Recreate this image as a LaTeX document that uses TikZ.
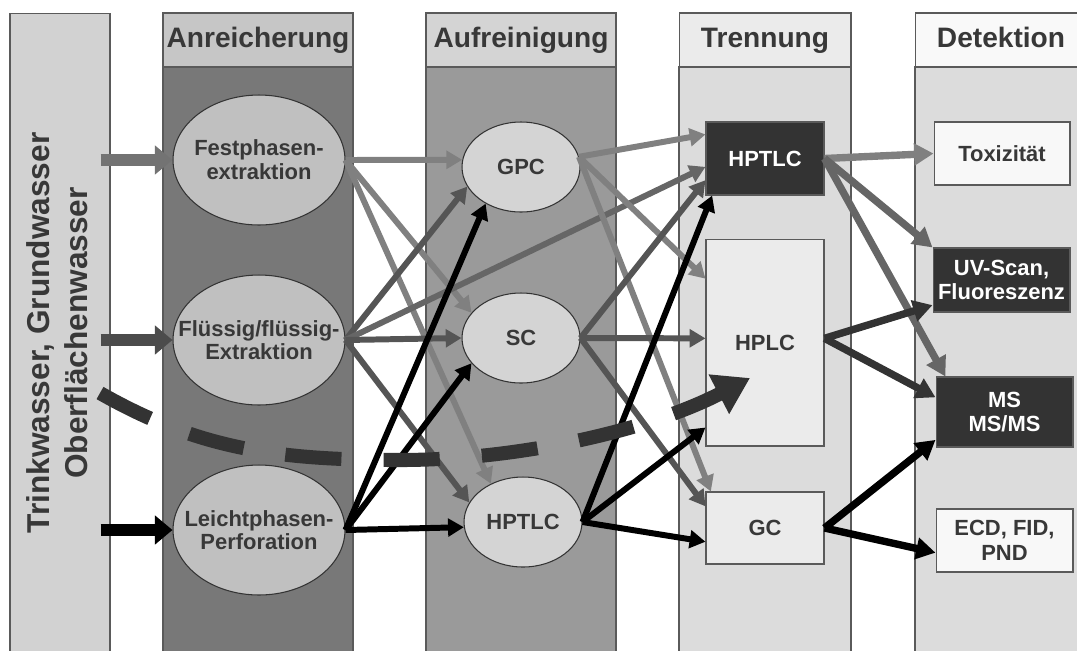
\documentclass[tikz,border=0pt]{standalone}
\usepackage{fontspec}
\setmainfont{Liberation Sans}
\usetikzlibrary{arrows.meta,shapes.geometric}

\definecolor{textgray}{HTML}{383838}
\definecolor{framegray}{HTML}{5A5A5A}
\definecolor{srcfill}{HTML}{D2D2D2}
\definecolor{anrhead}{HTML}{C6C6C6}
\definecolor{anrbody}{HTML}{787878}
\definecolor{aufhead}{HTML}{D4D4D4}
\definecolor{aufbody}{HTML}{9A9A9A}
\definecolor{trehead}{HTML}{EBEBEB}
\definecolor{trebody}{HTML}{DCDCDC}
\definecolor{dethead}{HTML}{F9F9F9}
\definecolor{anrfill}{HTML}{C0C0C0}
\definecolor{auffill}{HTML}{D4D4D4}
\definecolor{darkbox}{HTML}{333333}
\definecolor{lightbox}{HTML}{EBEBEB}
\definecolor{whitebox}{HTML}{F8F8F8}
\definecolor{midgray}{HTML}{808080}
\definecolor{arrowgray}{HTML}{666666}
\definecolor{darkarrow}{HTML}{555555}

\begin{document}
\begin{tikzpicture}[x=0.02cm,y=-0.02cm,
  >={Triangle[length=9pt,width=10pt]},
  colframe/.style={draw=framegray,line width=0.6pt},
  headbox/.style={colframe,minimum height=1.08cm,inner sep=0pt,
    text height=11.5pt,text depth=3.4pt,
    font=\bfseries\fontsize{16}{18}\selectfont,text=textgray},
  nodetext/.style={align=center,inner sep=0pt,text=textgray,
    font=\bfseries\fontsize{12.5}{13.5}\selectfont},
  anrnode/.style={ellipse,draw=darkbox,line width=0.6pt,fill=anrfill,
    minimum width=3.44cm,minimum height=2.6cm,inner sep=0pt},
  aufnode/.style={ellipse,draw=darkbox,line width=0.6pt,fill=auffill,
    minimum width=2.36cm,minimum height=1.8cm,inner sep=0pt},
  boxnode/.style={rectangle,draw=framegray,line width=0.6pt,inner sep=0pt,
    align=center,text=textgray,font=\bfseries\fontsize{12.5}{14}\selectfont},
  darknode/.style={boxnode,fill=darkbox,text=white},
  inarrow/.style={line width=7pt,-{Triangle[length=10pt,width=16pt]}},
  flow/.style={line width=3.4pt,->},
  flowbig/.style={line width=4.2pt,-{Triangle[length=11pt,width=12pt]}},
  dashflow/.style={line width=8pt,draw=darkbox,dash pattern=on 32pt off 24pt,
    -{Triangle[length=20pt,width=24pt]}}]
  \useasboundingbox (0,0) rectangle (1077,650);

  % Columns
  \node[colframe,fill=srcfill,minimum width=2cm,minimum height=12.8cm,
    inner sep=0pt] (src) at (60,333) {};
  \node[rotate=90,align=center,text=textgray,
    font=\bfseries\fontsize{18}{21.5}\selectfont] (srclabel) at (57,333)
    {Trinkwasser, Grundwasser\\Oberflächenwasser};
  \draw[colframe,fill=anrbody] (163,67) rectangle (353,653);
  \draw[colframe,fill=aufbody] (426,67) rectangle (616,653);
  \draw[colframe,fill=trebody] (679,67) rectangle (851,653);
  \draw[colframe,fill=trebody] (915,67) rectangle (1087,653);
  \node[headbox,fill=anrhead,minimum width=3.8cm] (hanr) at (258,40) {Anreicherung};
  \node[headbox,fill=aufhead,minimum width=3.8cm] (hauf) at (521,40) {Aufreinigung};
  \node[headbox,fill=trehead,minimum width=3.44cm] (htre) at (765,40) {Trennung};
  \node[headbox,fill=dethead,minimum width=3.44cm] (hdet) at (1001,40) {Detektion};

  % Anreicherung
  \node[anrnode,label={[nodetext]center:Festphasen-\\extraktion}] (fest) at (259,160) {};
  \node[anrnode,label={[nodetext]center:Flüssig/flüssig-\\Extraktion}] (flue) at (259,340) {};
  \node[anrnode,label={[nodetext]center:Leichtphasen-\\Perforation}] (leicht) at (259,530) {};

  % Aufreinigung
  \node[aufnode,label={[nodetext]center:GPC}] (gpc) at (521,167) {};
  \node[aufnode,label={[nodetext]center:SC}] (sc) at (521,338) {};
  \node[aufnode,label={[nodetext]center:HPTLC}] (hptlc) at (523,522) {};

  % Trennung
  \node[darknode,minimum width=2.36cm,minimum height=1.46cm] (htrenn) at (765,158.5) {HPTLC};
  \node[boxnode,fill=lightbox,minimum width=2.36cm,minimum height=4.14cm] (hplc) at (765,342.5) {HPLC};
  \node[boxnode,fill=lightbox,minimum width=2.36cm,minimum height=1.44cm] (gc) at (765,528) {GC};

  % Detektion
  \node[boxnode,fill=whitebox,minimum width=2.72cm,minimum height=1.26cm] (tox) at (1002,153.5) {Toxizität};
  \node[darknode,minimum width=2.74cm,minimum height=1.28cm] (uv) at (1001.5,280) {UV-Scan,\\Fluoreszenz};
  \node[darknode,minimum width=2.74cm,minimum height=1.4cm] (ms) at (1004.5,412) {MS\\MS/MS};
  \node[boxnode,fill=whitebox,minimum width=2.74cm,minimum height=1.26cm] (ecd) at (1004.5,540.5) {ECD, FID,\\PND};

  % Input arrows
  \coordinate (srcedge) at ([xshift=-0.2cm]src.east);
  \draw[inarrow,draw=black!55] (srcedge |- fest.west) -- (fest.west);
  \draw[inarrow,draw=black!70] (srcedge |- flue.west) -- (flue.west);
  \draw[inarrow,draw=black] (srcedge |- leicht.west) -- (leicht.west);

  % Anreicherung -> Aufreinigung
  \draw[flow,draw=midgray] (fest.east) -- (gpc.173);
  \draw[flow,draw=midgray] (fest.east) -- (sc.153);
  \draw[flow,draw=midgray] (fest.east) -- (hptlc.130);
  \draw[flow,draw=darkarrow] (flue.east) -- (gpc.200);
  \draw[flow,draw=arrowgray] (flue.east) -- (htrenn.188);
  \draw[flow,draw=darkarrow] (flue.east) -- (sc.west);
  \draw[flow,draw=darkarrow] (flue.east) -- (hptlc.160);
  \draw[flow,draw=black] (leicht.east) -- (gpc.226);
  \draw[flow,draw=black] (leicht.east) -- (sc.207);
  \draw[flow,draw=black] (leicht.east) -- (hptlc.185);

  % Aufreinigung -> Trennung
  \draw[flow,draw=midgray] (gpc.10) -- (htrenn.158);
  \draw[flow,draw=midgray] (gpc.10) -- (hplc.133);
  \draw[flow,draw=midgray] (gpc.10) -- (gc.146);
  \draw[flow,draw=darkarrow] (sc.east) -- (htrenn.200);
  \draw[flow,draw=darkarrow] (sc.east) -- (hplc.176);
  \draw[flow,draw=darkarrow] (sc.east) -- (gc.160);
  \draw[flow,draw=black] (hptlc.east) -- (htrenn.215);
  \draw[flow,draw=black] (hptlc.east) -- (hplc.235);
  \draw[flow,draw=black] (hptlc.east) -- (gc.193);

  % Trennung -> Detektion
  \draw[flowbig,draw=midgray] (htrenn.east) -- (tox.west);
  \draw[flowbig,draw=arrowgray] (htrenn.east) -- (uv.north west);
  \draw[flowbig,draw=arrowgray] (htrenn.east) -- (ms.149);
  \draw[flowbig,draw=darkbox] (hplc.4) -- (uv.200);
  \draw[flowbig,draw=darkbox] (hplc.4) -- (ms.168);
  \draw[flowbig,draw=black] (gc.east) -- (ms.202);
  \draw[flowbig,draw=black] (gc.east) -- (ecd.190);

  % Dashed path
  \coordinate (dstart) at (100,393);
  \coordinate (dmid) at (400,460);
  \coordinate (dend) at (750,378);
  \draw[dashflow] (dstart) .. controls (200,450) and (280,460) .. (dmid)
    .. controls (520,460) and (650,430) .. (dend);
\end{tikzpicture}
\end{document}
